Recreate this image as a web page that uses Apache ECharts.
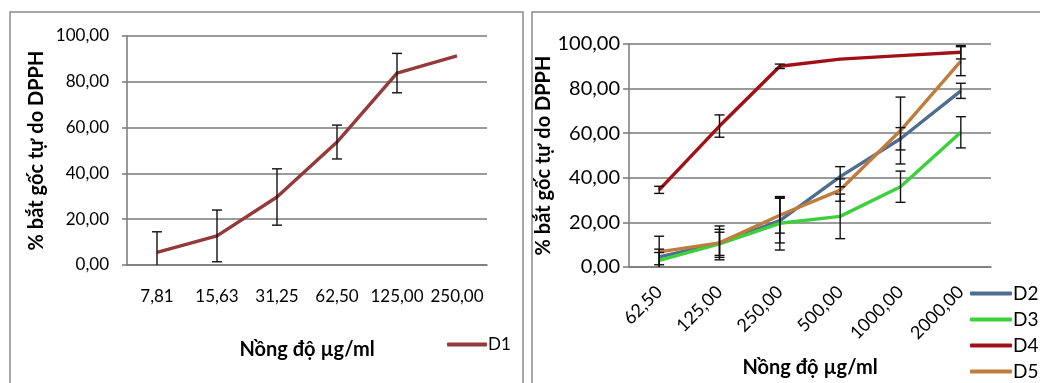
<!DOCTYPE html>
<html>
<head>
<meta charset="utf-8">
<script src="https://cdn.jsdelivr.net/npm/echarts@6/dist/echarts.min.js"></script>
<style>
html,body{margin:0;padding:0;background:#fff;}
#c{width:1040px;height:383px;}
</style>
</head>
<body>
<div id="c"></div>
<script>
// ---- data ----
var catsLeft = ['7,81', '15,63', '31,25', '62,50', '125,00', '250,00'];
var catsRight = ['62,50', '125,00', '250,00', '500,00', '1000,00', '2000,00'];
var yTicks = [0, 20, 40, 60, 80, 100];

var d1 = [5.5, 12.7, 29.7, 53.7, 83.8, 91.3];
var d1Err = [9, 11.3, 12.3, 7.4, 8.6, null];

var d2 = [4.5, 10.6, 20.8, 40.5, 57.5, 79.0];
var d2Err = [3.5, 6.3, 10, 4.5, 5, 3.4];
var d3 = [3.0, 10.4, 19.6, 22.7, 36.0, 60.4];
var d3Err = [3.5, 5.2, 12, 10, 7, 7];
var d4 = [34.6, 63.2, 90.0, 93.2, 94.8, 96.3];
var d4Err = [1.6, 5, 1, null, null, 3];
var d5 = [6.8, 10.8, 23.2, 34.5, 61.2, 92.3];
var d5Err = [7, 7.6, 8, 5, 15, 6.5];

var colors = {D1: '#943a3a', D2: '#4e6d90', D3: '#3cd03c', D4: '#a11016', D5: '#c07c3c'};
var FONT = 'Lato, "Noto Sans", sans-serif';

function fmt(v) { return v.toFixed(2).replace('.', ','); }

function errData(vals, errs) {
  var out = [];
  for (var i = 0; i < vals.length; i++) {
    if (errs[i] != null) out.push([i, vals[i], errs[i]]);
  }
  return out;
}

function renderErr(params, api) {
  var x = api.value(0), v = api.value(1), e = api.value(2);
  var top = api.coord([x, v + e]);
  var bot = api.coord([x, v - e]);
  var cs = params.coordSys;
  var yMin = cs.y, yMax = cs.y + cs.height;
  var cx = top[0], w = 5;
  var t = top[1], b = bot[1];
  var children = [];
  var tc = false, bc = false;
  if (t < yMin) { t = yMin; tc = true; }
  if (b > yMax) { b = yMax; bc = true; }
  var st = {stroke: '#111', lineWidth: 1.4};
  children.push({type: 'line', shape: {x1: cx, y1: t, x2: cx, y2: b}, style: st});
  if (!tc) children.push({type: 'line', shape: {x1: cx - w, y1: t, x2: cx + w, y2: t}, style: st});
  if (!bc) children.push({type: 'line', shape: {x1: cx - w, y1: b, x2: cx + w, y2: b}, style: st});
  return {type: 'group', children: children};
}

function lineSeries(name, data, gi) {
  return {
    name: name, type: 'line', data: data, xAxisIndex: gi, yAxisIndex: gi,
    symbol: 'none', showSymbol: false, smooth: false,
    lineStyle: {color: colors[name], width: 3.4},
    itemStyle: {color: colors[name]}, z: 3
  };
}
function errSeries(name, vals, errs, gi) {
  return {
    name: name + ' err', type: 'custom', xAxisIndex: gi, yAxisIndex: gi,
    renderItem: renderErr, data: errData(vals, errs), z: 5, silent: true,
    encode: {x: 0, y: 1}
  };
}

var yAxisCommon = function (fs, margin, tickLen, nameGap, nameSize) {
  return {
    type: 'value', min: yTicks[0], max: yTicks[yTicks.length - 1], interval: 20,
    name: '% bắt gốc tự do DPPH', nameLocation: 'middle', nameGap: nameGap, nameRotate: 90,
    nameTextStyle: {fontFamily: FONT, fontWeight: 'bold', fontSize: nameSize, color: '#000'},
    axisLine: {show: true, lineStyle: {color: '#7a7a7a', width: 1.5}},
    axisTick: {show: true, length: tickLen, lineStyle: {color: '#7a7a7a', width: 1.5}},
    axisLabel: {formatter: fmt, fontFamily: FONT, fontSize: fs, color: '#000', margin: margin},
    splitLine: {show: true, lineStyle: {color: '#7a7a7a', width: 1.5}}
  };
};

var option = {
  backgroundColor: '#fff',
  animation: false,
  graphic: [
    {type: 'rect', shape: {x: 10, y: 12, width: 513, height: 390}, style: {fill: 'none', stroke: '#8a8a8a', lineWidth: 1.5}, z: 0},
    {type: 'rect', shape: {x: 532, y: 12, width: 530, height: 390}, style: {fill: 'none', stroke: '#8a8a8a', lineWidth: 1.5}, z: 0}
  ],
  grid: [
    {left: 127, top: 36, width: 360, height: 229},
    {left: 629, top: 44, width: 362, height: 225}
  ],
  legend: [
    {
      data: ['D1'], left: 447, top: 336, orient: 'vertical',
      icon: 'roundRect', itemWidth: 40, itemHeight: 4,
      textStyle: {fontFamily: FONT, fontSize: 17, color: '#000', padding: [0, 0, 0, -4]},
      padding: 0
    },
    {
      data: ['D2', 'D3', 'D4', 'D5'], left: 970, top: 284, orient: 'vertical',
      icon: 'roundRect', itemWidth: 42, itemHeight: 4, itemGap: 7,
      textStyle: {fontFamily: FONT, fontSize: 19, color: '#000', lineHeight: 19, padding: [0, 0, 0, -4]},
      padding: 0
    }
  ],
  xAxis: [
    {
      type: 'category', gridIndex: 0, data: catsLeft, boundaryGap: true,
      name: 'Nồng độ µg/ml', nameLocation: 'middle', nameGap: 75,
      nameTextStyle: {fontFamily: FONT, fontWeight: 'bold', fontSize: 20, color: '#000'},
      axisLine: {show: true, lineStyle: {color: '#7a7a7a', width: 1.5}},
      axisTick: {show: false},
      axisLabel: {fontFamily: FONT, fontSize: 17, color: '#000', margin: 23, interval: 0}
    },
    {
      type: 'category', gridIndex: 1, data: catsRight, boundaryGap: true,
      name: 'Nồng độ µg/ml', nameLocation: 'middle', nameGap: 91,
      nameTextStyle: {fontFamily: FONT, fontWeight: 'bold', fontSize: 20, color: '#000'},
      axisLine: {show: true, lineStyle: {color: '#7a7a7a', width: 1.5}},
      axisTick: {show: false},
      axisLabel: {fontFamily: FONT, fontSize: 18, color: '#000', margin: 22, rotate: 45, interval: 0}
    }
  ],
  yAxis: [
    Object.assign({gridIndex: 0}, yAxisCommon(17, 18, 5, 80, 20)),
    Object.assign({gridIndex: 1}, yAxisCommon(20, 9, 6, 68, 20))
  ],
  series: [
    lineSeries('D1', d1, 0),
    errSeries('D1', d1, d1Err, 0),
    lineSeries('D2', d2, 1),
    lineSeries('D3', d3, 1),
    lineSeries('D4', d4, 1),
    lineSeries('D5', d5, 1),
    errSeries('D2', d2, d2Err, 1),
    errSeries('D3', d3, d3Err, 1),
    errSeries('D4', d4, d4Err, 1),
    errSeries('D5', d5, d5Err, 1)
  ]
};

var chart = echarts.init(document.getElementById('c'), null, {renderer: 'canvas'});
chart.setOption(option);
</script>
</body>
</html>
